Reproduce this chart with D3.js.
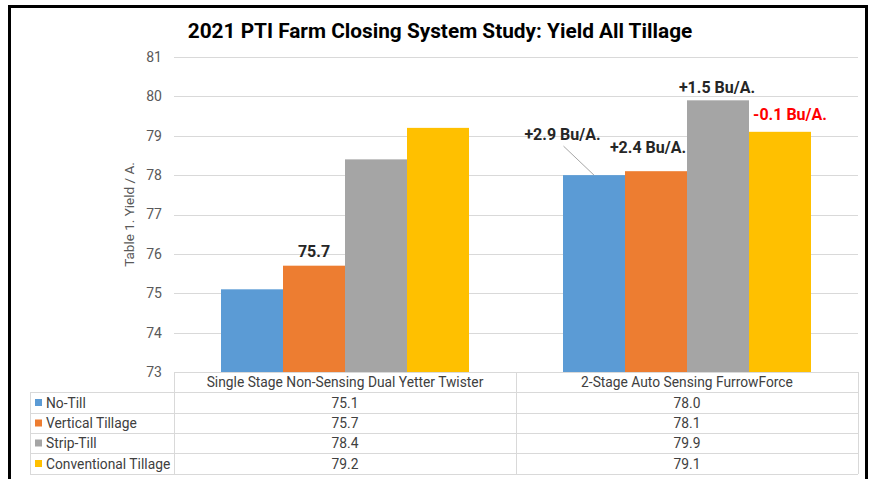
<!DOCTYPE html>
<html><head><meta charset="utf-8">
<script src="https://cdn.jsdelivr.net/npm/d3@7"></script>
<style>html,body{margin:0;padding:0;background:#fff;}</style>
</head><body>
<svg id="c" width="874" height="479"></svg>
<script>
const categories = ["Single Stage Non-Sensing Dual Yetter Twister", "2-Stage Auto Sensing FurrowForce"];
const seriesNames = ["No-Till", "Vertical Tillage", "Strip-Till", "Conventional Tillage"];
const seriesColors = ["#5b9bd5", "#ed7d31", "#a5a5a5", "#ffc000"];
const noTill = [75.1, 78.0];
const verticalTillage = [75.7, 78.1];
const stripTill = [78.4, 79.9];
const conventionalTillage = [79.2, 79.1];
const yTicks = [73, 74, 75, 76, 77, 78, 79, 80, 81];
const title = "2021 PTI Farm Closing System Study: Yield All Tillage";
const yLabel = "Table 1. Yield / A.";
// annotations: [category index, series index, text, colour]
const annotations = [
  [0, 1, "75.7", "#262626"],
  [1, 0, "+2.9 Bu/A.", "#262626"],
  [1, 1, "+2.4 Bu/A.", "#262626"],
  [1, 2, "+1.5 Bu/A.", "#262626"],
  [1, 3, "-0.1 Bu/A.", "#ff0000"]
];

const values = [noTill, verticalTillage, stripTill, conventionalTillage];
const svg = d3.select("#c");
const font = "Roboto, 'Liberation Sans', Arial, sans-serif";

// frame
svg.append("rect").attr("x", 9.5).attr("y", 6.5).attr("width", 857).attr("height", 480)
  .attr("fill", "#fff").attr("stroke", "#000").attr("stroke-width", 3);

const L = 174, R = 858, T = 57, B = 372;
const x0 = d3.scaleBand().domain(categories).range([L, R]).paddingInner(0).paddingOuter(0);
const groupPad = 47;
const x1 = d3.scaleBand().domain(d3.range(seriesNames.length)).range([groupPad, x0.bandwidth() - groupPad]).padding(0);
const y = d3.scaleLinear().domain([73, 81]).range([B, T]);

// gridlines
svg.append("g").selectAll("line").data(yTicks.filter(t => t > 73)).join("line")
  .attr("x1", L).attr("x2", R).attr("y1", d => Math.round(y(d)) + 0.5).attr("y2", d => Math.round(y(d)) + 0.5)
  .attr("stroke", "#d9d9d9").attr("stroke-width", 1);

// y axis
const yAxis = d3.axisLeft(y).tickValues(yTicks).tickSize(0).tickPadding(12).tickFormat(d3.format("d"));
const ya = svg.append("g").attr("transform", `translate(${L},0)`).call(yAxis);
ya.select(".domain").remove();
ya.selectAll("text").attr("font-family", font).attr("font-size", 14).attr("fill", "#595959");

// y label
svg.append("text").attr("transform", `translate(134,${(T + B) / 2}) rotate(-90)`)
  .attr("text-anchor", "middle").attr("font-family", font).attr("font-size", 13.5).attr("fill", "#595959")
  .text(yLabel);

// bars
const g = svg.append("g");
categories.forEach((c, ci) => {
  values.forEach((s, si) => {
    g.append("rect")
      .attr("x", x0(c) + x1(si)).attr("width", x1.bandwidth())
      .attr("y", y(s[ci])).attr("height", y(73) - y(s[ci]))
      .attr("fill", seriesColors[si]);
  });
});

// annotations
const annOffsets = {"0-1": [0, -8.5], "1-0": [-31.5, -35], "1-1": [-8, -18], "1-2": [-1, -7], "1-3": [10, -12]};
annotations.forEach(([ci, si, txt, col]) => {
  const cx = x0(categories[ci]) + x1(si) + x1.bandwidth() / 2;
  const top = y(values[si][ci]);
  const off = annOffsets[ci + "-" + si];
  svg.append("text").attr("x", cx + off[0]).attr("y", top + off[1])
    .attr("text-anchor", "middle").attr("font-family", font).attr("font-weight", "bold")
    .attr("font-size", 16).attr("fill", col).text(txt);
  if (ci === 1 && si === 0) {
    svg.append("line").attr("x1", cx + off[0] + 1).attr("y1", top + off[1] + 6)
      .attr("x2", cx).attr("y2", top).attr("stroke", "#a6a6a6").attr("stroke-width", 1);
  }
});

// title
svg.append("text").attr("x", 440).attr("y", 38).attr("text-anchor", "middle")
  .attr("font-family", font).attr("font-weight", "bold").attr("font-size", 20.8).attr("fill", "#000")
  .text(title);

// data table
const rowH = [372, 392, 413, 433, 453, 474];
const legL = 30;
const tg = svg.append("g");
const lineCol = "#d9d9d9";
tg.append("line").attr("x1", L).attr("x2", R).attr("y1", rowH[0] + 0.5).attr("y2", rowH[0] + 0.5).attr("stroke", lineCol);
rowH.slice(1).forEach(yy => tg.append("line").attr("x1", legL).attr("x2", R).attr("y1", yy + 0.5).attr("y2", yy + 0.5).attr("stroke", lineCol));
tg.append("line").attr("x1", legL + 0.5).attr("x2", legL + 0.5).attr("y1", rowH[1]).attr("y2", rowH[5]).attr("stroke", lineCol);
[L, x0(categories[1]), R].forEach(xx => tg.append("line").attr("x1", xx + 0.5).attr("x2", xx + 0.5).attr("y1", rowH[0]).attr("y2", rowH[5]).attr("stroke", lineCol));
categories.forEach(c => {
  tg.append("text").attr("x", x0(c) + x0.bandwidth() / 2).attr("y", (rowH[0] + rowH[1]) / 2 + 5)
    .attr("text-anchor", "middle").attr("font-family", font).attr("font-size", 13.8).attr("fill", "#404040").text(c);
});
seriesNames.forEach((n, si) => {
  const cy = (rowH[si + 1] + rowH[si + 2]) / 2;
  tg.append("rect").attr("x", 35).attr("y", cy - 3.5).attr("width", 7).attr("height", 7).attr("fill", seriesColors[si]);
  tg.append("text").attr("x", 46).attr("y", cy + 5).attr("font-family", font).attr("font-size", 13.8).attr("fill", "#404040").text(n);
  categories.forEach((c, ci) => {
    tg.append("text").attr("x", x0(c) + x0.bandwidth() / 2).attr("y", cy + 5).attr("text-anchor", "middle")
      .attr("font-family", font).attr("font-size", 13.8).attr("fill", "#404040").text(values[si][ci].toFixed(1));
  });
});
</script>
</body></html>
